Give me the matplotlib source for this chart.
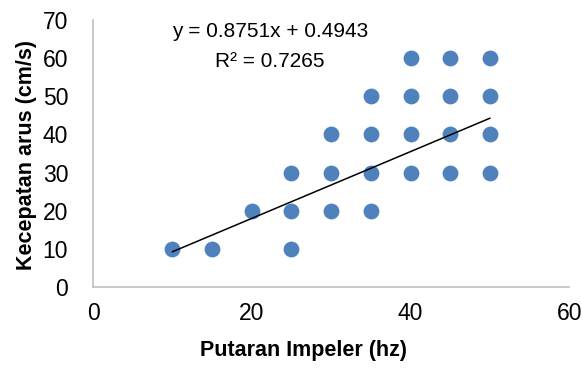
import numpy as np
import matplotlib.pyplot as plt

# data
putaran = [10, 15, 20, 25, 25, 25, 30, 30, 30, 35, 35, 35, 35,
           40, 40, 40, 40, 45, 45, 45, 45, 50, 50, 50, 50]
kecepatan = [10, 10, 20, 10, 20, 30, 20, 30, 40, 20, 30, 40, 50,
             30, 40, 50, 60, 30, 40, 50, 60, 30, 40, 50, 60]
slope = 0.8751
intercept = 0.4943
r2 = 0.7265

plt.rcParams['font.family'] = ['Liberation Sans Narrow', 'Liberation Sans', 'DejaVu Sans']

fig = plt.figure(figsize=(5.82, 3.71), dpi=100)
ax = fig.add_axes([0.160, 0.2264, 0.818, 0.7196])

ax.scatter(putaran, kecepatan, s=130, color='#4F81BD', zorder=2, linewidths=0)

# trendline
xl = np.array([min(putaran), max(putaran)])
ax.plot(xl, slope * xl + intercept, color='black', lw=1.1, zorder=3)

ax.text(22.3, 66.9, f"y = {slope}x + {intercept}", fontsize=15,
        ha='center', va='center')
ax.text(22.3, 59.0, f"R² = {r2}", fontsize=15, ha='center', va='center')

ax.set_xlim(0, 60)
ax.set_ylim(0, 70)
ax.set_xticks([0, 20, 40, 60])
ax.set_yticks(range(0, 71, 10))
ax.tick_params(length=0, labelsize=16.5)
ax.tick_params(axis='x', pad=11)
ax.tick_params(axis='y', pad=18)
for s in ['top', 'right']:
    ax.spines[s].set_visible(False)
for s in ['left', 'bottom']:
    ax.spines[s].set_color('#BFBFBF')
    ax.spines[s].set_linewidth(1.2)

ax.set_xlabel("Putaran Impeler (hz)", fontsize=15.5, fontweight='bold')
ax.xaxis.set_label_coords(0.441, -0.2)
ax.set_ylabel("Kecepatan arus (cm/s)", fontsize=15.5, fontweight='bold')
ax.yaxis.set_label_coords(-0.118, 0.494)

fig.savefig("out.png", dpi=100)
